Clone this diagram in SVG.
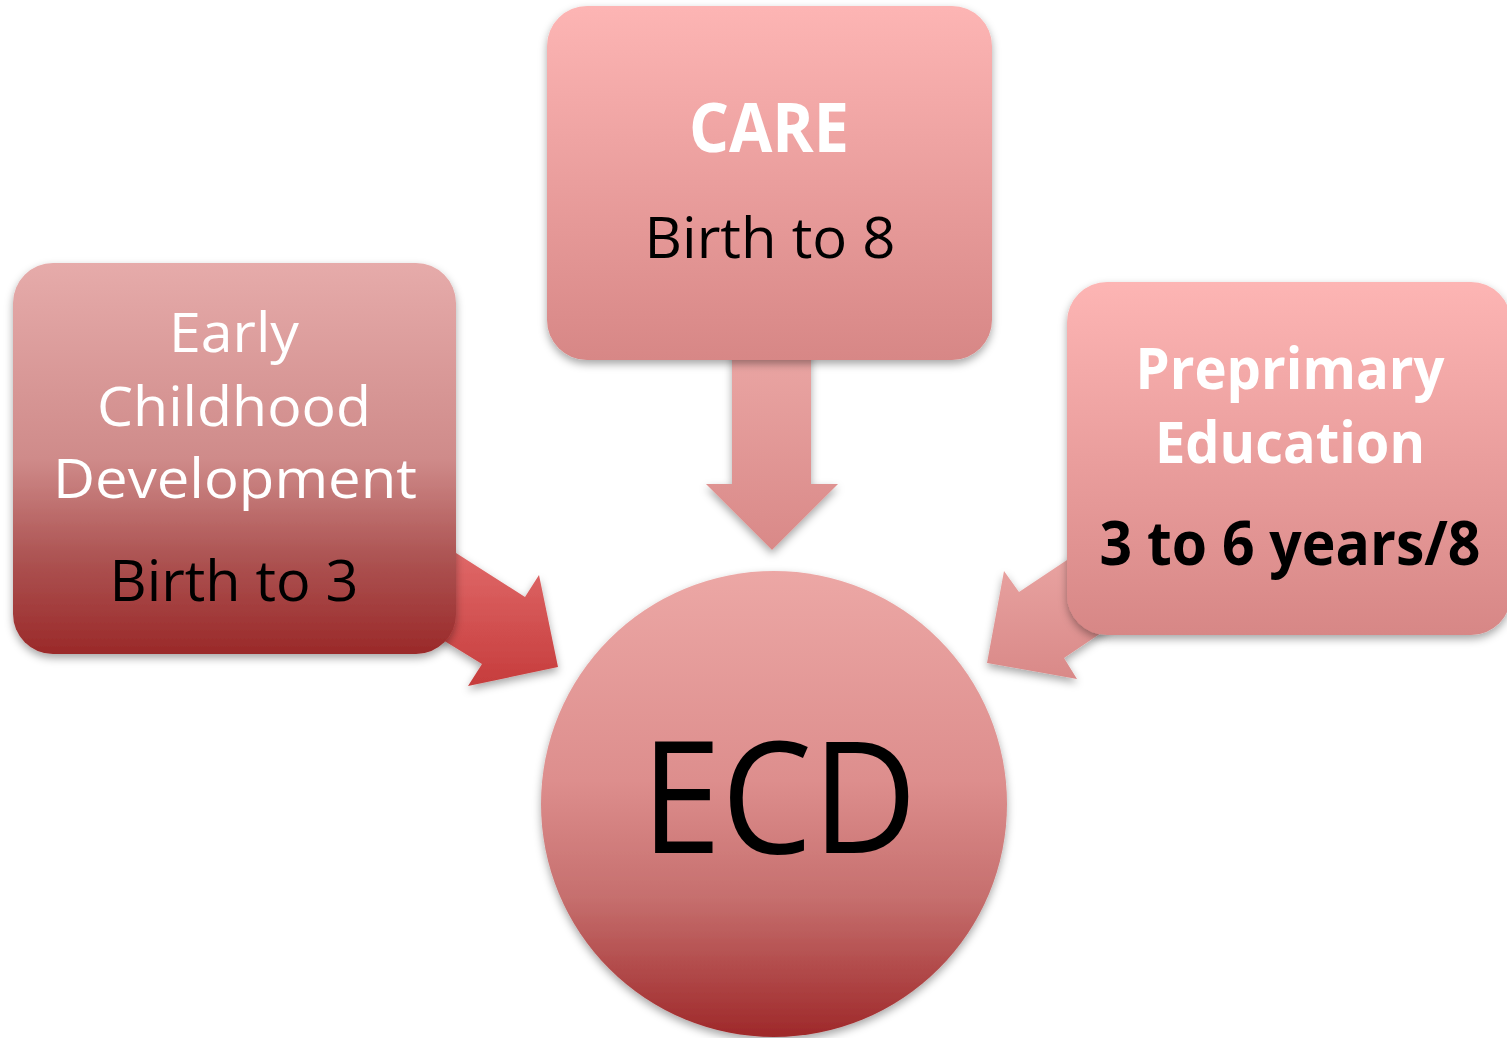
<svg xmlns="http://www.w3.org/2000/svg" width="1507" height="1038" viewBox="0 0 1507 1038">
<defs>
<linearGradient id="gLeft" x1="0" y1="0" x2="0" y2="1"><stop offset="0" stop-color="#e6abaa"/><stop offset="0.5" stop-color="#cf8b8a"/><stop offset="0.75" stop-color="#ad5453"/><stop offset="1" stop-color="#9a2929"/></linearGradient>
<linearGradient id="gPink" x1="0" y1="0" x2="0" y2="1"><stop offset="0" stop-color="#fdb5b4"/><stop offset="1" stop-color="#d78786"/></linearGradient>
<linearGradient id="gCircle" x1="0" y1="0" x2="0" y2="1"><stop offset="0" stop-color="#eca7a5"/><stop offset="0.45" stop-color="#dd8e8d"/><stop offset="0.7" stop-color="#c66f6e"/><stop offset="1" stop-color="#9e2829"/></linearGradient>
<linearGradient id="gArrowRed" x1="0" y1="0" x2="0" y2="1"><stop offset="0" stop-color="#e47070"/><stop offset="1" stop-color="#c63c3c"/></linearGradient>
<linearGradient id="gArrowPink" x1="0" y1="0" x2="0" y2="1"><stop offset="0" stop-color="#eba7a5"/><stop offset="1" stop-color="#d98988"/></linearGradient>
<filter id="shadow" x="-10%" y="-10%" width="120%" height="125%"><feDropShadow dx="0" dy="4" stdDeviation="4" flood-color="#000" flood-opacity="0.35"/></filter>
</defs>
<style>
.t{font-family:"Open Sans","Noto Sans","DejaVu Sans",sans-serif;text-anchor:middle}
.w{fill:#ffffff}
.k{fill:#000000}
.b{font-weight:bold}
</style>
<g id="connectors">
<polygon id="arrow-left" filter="url(#shadow)" fill="url(#gArrowRed)" points="420,530 525,597 539,575 558,667 468,686 482,664 420,626"/>
<polygon id="arrow-top" filter="url(#shadow)" fill="url(#gArrowPink)" points="732,340 811,340 811,484 838,484 772,550 706,484 732,484"/>
<polygon id="arrow-right" filter="url(#shadow)" fill="url(#gArrowPink)" points="1100,538 1019,592 1004,571 987,663 1077,679 1064,658 1110,627"/>
</g>
<g id="node-ecd">
<circle cx="774" cy="804" r="233" fill="url(#gCircle)" filter="url(#shadow)"/>
<text class="t k" x="779" y="853" font-size="156" textLength="276" lengthAdjust="spacingAndGlyphs">ECD</text>
</g>
<g id="node-ecdev">
<rect x="13" y="263" width="443" height="391" rx="40" fill="url(#gLeft)" filter="url(#shadow)"/>
<text class="t w" x="234" y="352" font-size="55" textLength="130" lengthAdjust="spacingAndGlyphs">Early</text>
<text class="t w" x="234" y="426" font-size="55" textLength="274" lengthAdjust="spacingAndGlyphs">Childhood</text>
<text class="t w" x="235" y="498" font-size="55" textLength="364" lengthAdjust="spacingAndGlyphs">Development</text>
<text class="t k" x="234" y="601" font-size="57" textLength="249" lengthAdjust="spacingAndGlyphs">Birth to 3</text>
</g>
<g id="node-care">
<rect x="547" y="6" width="445" height="354" rx="40" fill="url(#gPink)" filter="url(#shadow)"/>
<text class="t w b" x="769" y="152" font-size="68" textLength="160" lengthAdjust="spacingAndGlyphs">CARE</text>
<text class="t k" x="770" y="258" font-size="57" textLength="251" lengthAdjust="spacingAndGlyphs">Birth to 8</text>
</g>
<g id="node-preprimary">
<rect x="1067" y="282" width="444" height="353" rx="40" fill="url(#gPink)" filter="url(#shadow)"/>
<text class="t w b" x="1290" y="389" font-size="57" textLength="309" lengthAdjust="spacingAndGlyphs">Preprimary</text>
<text class="t w b" x="1290" y="463" font-size="57" textLength="270" lengthAdjust="spacingAndGlyphs">Education</text>
<text class="t k b" x="1290" y="565" font-size="60" textLength="381" lengthAdjust="spacingAndGlyphs">3 to 6 years/8</text>
</g>
</svg>
